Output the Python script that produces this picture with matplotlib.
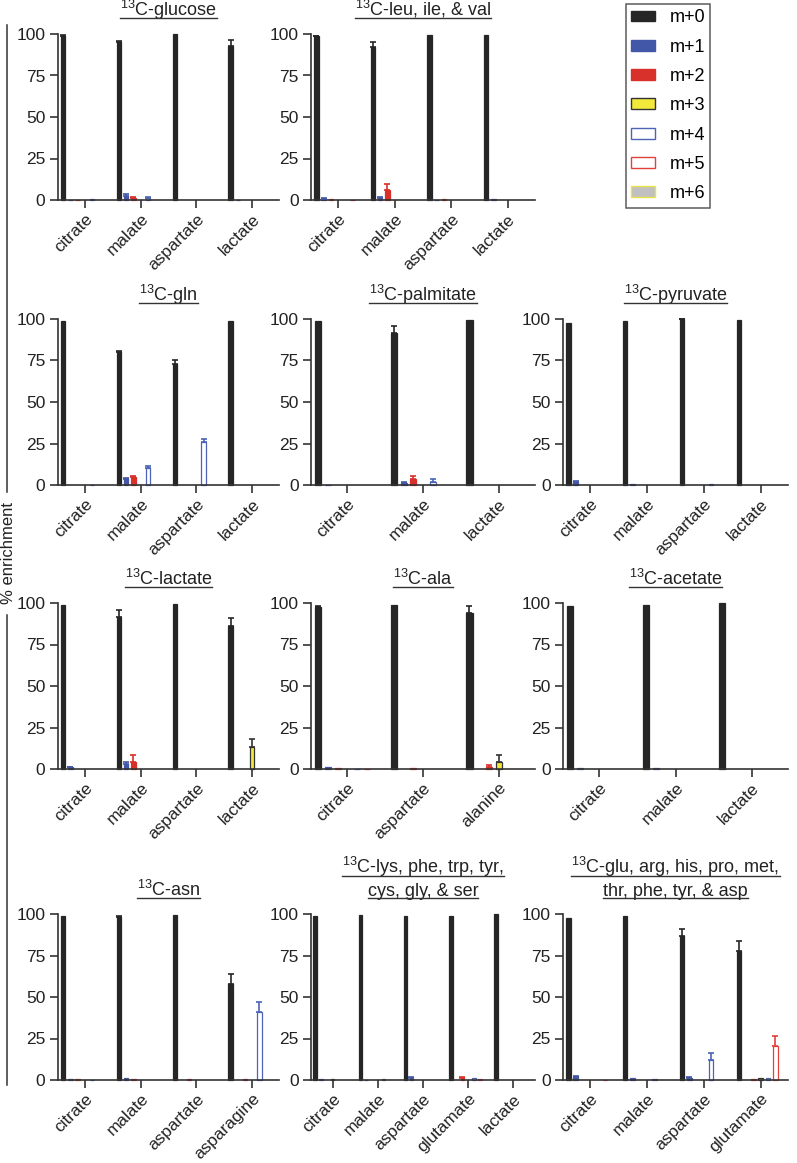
import matplotlib
matplotlib.use("Agg")
import matplotlib.pyplot as plt
from matplotlib.patches import Patch
from matplotlib.lines import Line2D
from matplotlib.transforms import offset_copy
import numpy as np

plt.rcParams['font.family'] = ['Liberation Sans', 'DejaVu Sans']
plt.rcParams['mathtext.fontset'] = 'custom'
plt.rcParams['mathtext.rm'] = 'Liberation Sans'

W, H = 797, 1163
INK = '#262626'

isotopologues = ["m+0", "m+1", "m+2", "m+3", "m+4", "m+5", "m+6"]
fills = [INK, '#4357a8', '#d8302a', '#f2e93b', 'white', 'white', '#c0c0c0']
edges = [INK, '#4357a8', '#d8302a', '#333333', '#4c63b8', '#e2403a', '#ece34a']
err_colors = [INK, '#4357a8', '#d8302a', '#333333', '#4c63b8', '#e2403a', '#999999']

# ---- data: mean % enrichment per category, columns m+0 .. m+6 ----
glucose_cats = ["citrate", "malate", "aspartate", "lactate"]
glucose_mean = [[99, 0.2, 0.2, 0, 0.5, 0, 0],
                [95, 2.5, 1, 0, 1.5, 0, 0],
                [99.8, 0, 0, 0, 0, 0, 0],
                [93, 0.2, 0, 0, 0, 0, 0]]
glucose_err = [[0.3, 0, 0, 0, 0, 0, 0],
               [1, 1, 1, 0, 0.3, 0, 0],
               [0, 0, 0, 0, 0, 0, 0],
               [3.5, 0, 0, 0, 0, 0, 0]]

leu_cats = ["citrate", "malate", "aspartate", "lactate"]
leu_mean = [[98.5, 0.8, 0.6, 0, 0, 0.3, 0],
            [92, 1, 6, 0, 0, 0, 0],
            [99.5, 0.3, 0.4, 0, 0, 0, 0],
            [99.5, 0.4, 0, 0, 0, 0, 0]]
leu_err = [[0.3, 0.3, 0, 0, 0, 0, 0],
           [3, 1, 3.5, 0, 0, 0, 0],
           [0, 0, 0, 0, 0, 0, 0],
           [0, 0, 0, 0, 0, 0, 0]]

gln_cats = ["citrate", "malate", "aspartate", "lactate"]
gln_mean = [[99, 0, 0, 0, 0.3, 0, 0],
            [80, 3.5, 5, 0, 10.5, 0, 0],
            [73, 0, 0, 0, 26, 0, 0],
            [99, 0, 0, 0, 0, 0, 0]]
gln_err = [[0, 0, 0, 0, 0, 0, 0],
           [1, 0.5, 0.5, 0, 1, 0, 0],
           [2, 0, 0, 0, 2, 0, 0],
           [0, 0, 0, 0, 0, 0, 0]]

palm_cats = ["citrate", "malate", "lactate"]
palm_mean = [[98.5, 0.3, 0, 0, 0, 0, 0],
             [91.5, 1, 3.5, 0, 2, 0, 0],
             [99.5, 0, 0, 0, 0, 0, 0]]
palm_err = [[0, 0, 0, 0, 0, 0, 0],
            [4, 1, 2, 0, 1.5, 0, 0],
            [0, 0, 0, 0, 0, 0, 0]]

pyr_cats = ["citrate", "malate", "aspartate", "lactate"]
pyr_mean = [[97.5, 2, 0, 0, 0, 0, 0],
            [99, 0.7, 0, 0, 0, 0, 0],
            [99.8, 0, 0, 0, 0.4, 0, 0],
            [99.5, 0, 0, 0, 0, 0, 0]]
pyr_err = [[0, 0.5, 0, 0, 0, 0, 0],
           [0, 0, 0, 0, 0, 0, 0],
           [0.5, 0, 0, 0, 0, 0, 0],
           [0, 0, 0, 0, 0, 0, 0]]

lac_cats = ["citrate", "malate", "aspartate", "lactate"]
lac_mean = [[99, 1, 0, 0, 0, 0, 0],
            [91.5, 3, 4.5, 0, 0, 0, 0],
            [99.5, 0, 0, 0, 0, 0, 0],
            [86, 0, 0, 13, 0, 0, 0]]
lac_err = [[0, 0.3, 0, 0, 0, 0, 0],
           [4.5, 1.5, 4, 0, 0, 0, 0],
           [0, 0, 0, 0, 0, 0, 0],
           [5, 0, 0, 5, 0, 0, 0]]

ala_cats = ["citrate", "aspartate", "alanine"]
ala_mean = [[97.5, 1, 0.6, 0, 0.3, 0.3, 0],
            [99, 0, 0.4, 0, 0, 0, 0],
            [94, 0, 1, 4, 0, 0, 0]]
ala_err = [[0.5, 0, 0, 0, 0, 0, 0],
           [0, 0, 0, 0, 0, 0, 0],
           [4, 0, 1.5, 4.5, 0, 0, 0]]

ace_cats = ["citrate", "malate", "lactate"]
ace_mean = [[98, 0.8, 0, 0, 0, 0, 0],
            [99, 0.7, 0, 0, 0, 0, 0],
            [99.8, 0, 0, 0, 0, 0, 0]]
ace_err = [[0, 0, 0, 0, 0, 0, 0],
           [0, 0, 0, 0, 0, 0, 0],
           [0, 0, 0, 0, 0, 0, 0]]

asn_cats = ["citrate", "malate", "aspartate", "asparagine"]
asn_mean = [[99, 0.5, 0.5, 0, 0.2, 0, 0],
            [98, 1.5, 0.8, 0, 0, 0, 0],
            [99.5, 0, 0.6, 0, 0, 0, 0],
            [58, 0, 0.8, 0, 41, 0, 0]]
asn_err = [[0, 0, 0, 0, 0, 0, 0],
           [0.5, 0, 0, 0, 0, 0, 0],
           [0, 0, 0, 0, 0, 0, 0],
           [6, 0, 0, 0, 6, 0, 0]]

lys_cats = ["citrate", "malate", "aspartate", "glutamate", "lactate"]
lys_mean = [[98.5, 0.8, 0, 0.5, 0, 0, 0],
            [99.5, 0.3, 0, 0, 0.4, 0, 0],
            [99, 1.5, 0, 0, 0, 0, 0],
            [98.5, 0, 1.2, 0, 1, 0.7, 0],
            [100, 0, 0, 0, 0, 0, 0]]
lys_err = [[0, 0, 0, 0, 0, 0, 0],
           [0, 0, 0, 0, 0, 0, 0],
           [0, 0.5, 0, 0, 0, 0, 0],
           [0, 0, 0.5, 0, 0, 0, 0],
           [0, 0, 0, 0, 0, 0, 0]]

glu_cats = ["citrate", "malate", "aspartate", "glutamate"]
glu_mean = [[97.5, 2, 0, 0, 0, 0.3, 0],
            [98.5, 1, 0, 0, 0.8, 0, 0],
            [87, 1.5, 0, 0, 12, 0, 0],
            [77.5, 0, 0.5, 1, 1, 20.5, 0]]
glu_err = [[0, 0.3, 0, 0, 0, 0, 0],
           [0, 0, 0, 0, 0, 0, 0],
           [4, 0.5, 0, 0, 4.5, 0, 0],
           [6.5, 0, 0, 0, 0, 6, 0]]

C13 = r"$\mathregular{^{13}}$"
panels = [
    (0, 0, [C13 + "C-glucose"], glucose_cats, glucose_mean, glucose_err),
    (0, 1, [C13 + "C-leu, ile, & val"], leu_cats, leu_mean, leu_err),
    (1, 0, [C13 + "C-gln"], gln_cats, gln_mean, gln_err),
    (1, 1, [C13 + "C-palmitate"], palm_cats, palm_mean, palm_err),
    (1, 2, [C13 + "C-pyruvate"], pyr_cats, pyr_mean, pyr_err),
    (2, 0, [C13 + "C-lactate"], lac_cats, lac_mean, lac_err),
    (2, 1, [C13 + "C-ala"], ala_cats, ala_mean, ala_err),
    (2, 2, [C13 + "C-acetate"], ace_cats, ace_mean, ace_err),
    (3, 0, [C13 + "C-asn"], asn_cats, asn_mean, asn_err),
    (3, 1, [C13 + "C-lys, phe, trp, tyr,", "cys, gly, & ser"], lys_cats, lys_mean, lys_err),
    (3, 2, [C13 + "C-glu, arg, his, pro, met,", "thr, phe, tyr, & asp"], glu_cats, glu_mean, glu_err),
]

# layout in pixels
col_left = [58, 311, 563]
col_w = [221, 224, 225]
row_base = [200, 485, 769, 1080]
ax_h = 166

fig = plt.figure(figsize=(W / 100, H / 100), dpi=100)

titles = []
for r, c, title, cats, mean, err in panels:
    ax = fig.add_axes([col_left[c] / W, 1 - row_base[r] / H, col_w[c] / W, ax_h / H])
    mean = np.array(mean, dtype=float)
    err = np.array(err, dtype=float)
    n = len(cats)
    step = 0.9 / 7
    base = np.arange(n)
    for k in range(7):
        x = base + (k - 3) * step
        keep = mean[:, k] > 0
        ax.bar(x[keep], mean[keep, k], width=0.62 * step, color=fills[k], edgecolor=edges[k],
               linewidth=0.9, clip_on=False, zorder=2)
        for i in range(n):
            if err[i, k] > 0:
                ax.errorbar(x[i], mean[i, k], yerr=[[0], [err[i, k]]], fmt='none',
                            ecolor=err_colors[k], elinewidth=1.2, capsize=2.4,
                            capthick=1.2, clip_on=False, zorder=3)
    ax.set_xlim(-0.48, n - 0.52)
    ax.set_ylim(0, 100)
    ax.set_yticks([0, 25, 50, 75, 100])
    ax.set_xticks(base)
    ax.set_xticklabels(cats, rotation=45, ha='right', rotation_mode='anchor', fontsize=12.4)
    for s in ['top', 'right']:
        ax.spines[s].set_visible(False)
    for s in ['left', 'bottom']:
        ax.spines[s].set_linewidth(1.2)
        ax.spines[s].set_color('#333333')
    ax.tick_params(axis='both', direction='out', length=6, width=1.2, color='#333333',
                   labelcolor='#222222', pad=3)
    ax.tick_params(axis='x', pad=2)
    ax.tick_params(axis='y', labelsize=12.5)
    # titles (one or two underlined lines)
    nl = len(title)
    for j, line in enumerate(title):
        off = 13 + (nl - 1 - j) * 16.5
        t = ax.text(0.5, 1.0, line, ha='center', va='baseline', fontsize=13, color='#222222',
                    transform=offset_copy(ax.transAxes, fig=fig, x=0, y=off, units='points'))
        titles.append((ax, t, off))

fig.canvas.draw()
renderer = fig.canvas.get_renderer()
for ax, t, off in titles:
    bb = t.get_window_extent(renderer)
    top = ax.get_window_extent(renderer).y1
    y = top + off * 100 / 72 - 2.5
    fig.add_artist(Line2D([bb.x0 / W, bb.x1 / W], [y / H, y / H], transform=fig.transFigure,
                          color='#333333', linewidth=1.0))

# y label with bracket lines
fig.text(9 / W, 1 - 553 / H, "% enrichment", rotation=90, ha='center', va='center',
         fontsize=12, color='#222222')
for y0, y1 in [(25, 492), (615, 1085)]:
    fig.add_artist(Line2D([7 / W, 7 / W], [1 - y0 / H, 1 - y1 / H], transform=fig.transFigure,
                          color='#333333', linewidth=1.1))

handles = [Patch(facecolor=fills[k], edgecolor=edges[k], linewidth=1.0, label=isotopologues[k])
           for k in range(7)]
leg = fig.legend(handles=handles, loc='upper left', bbox_to_anchor=(626 / W, 1 - 4 / H),
                 fontsize=13, frameon=True, fancybox=False, handlelength=1.3, handleheight=0.55,
                 handletextpad=0.8, labelspacing=0.68, borderpad=0.3, borderaxespad=0)
leg.get_frame().set_edgecolor('#333333')
leg.get_frame().set_linewidth(1.1)

fig.savefig("out.png", dpi=100)
